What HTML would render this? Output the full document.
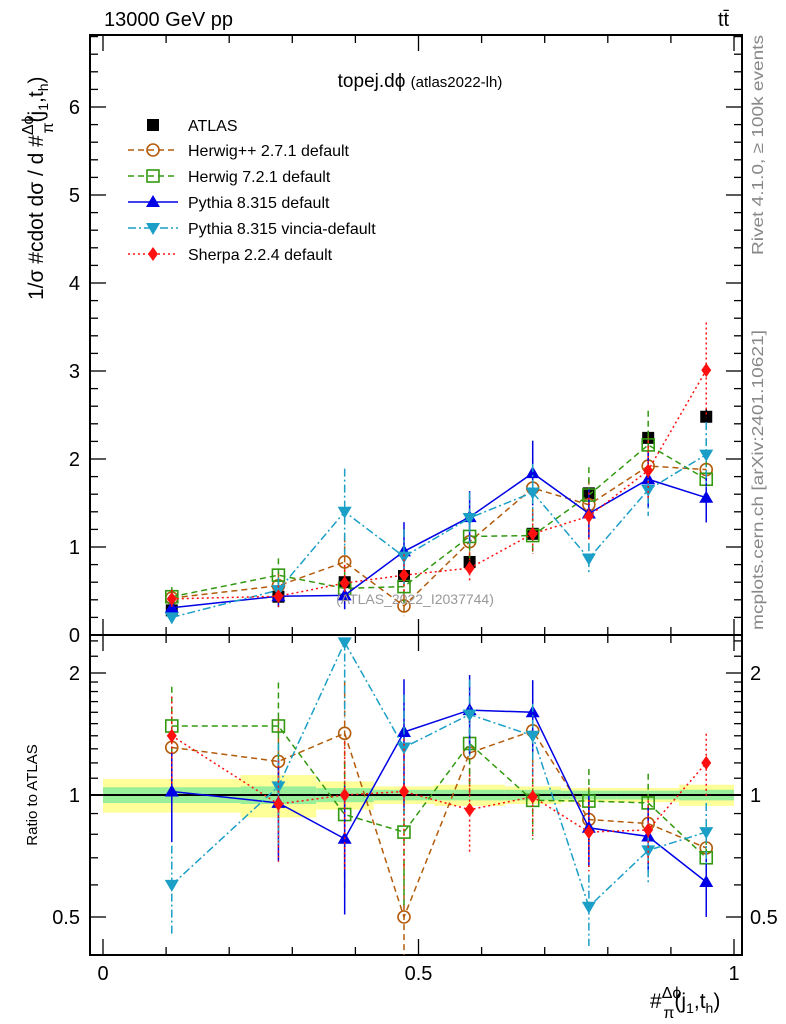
<!DOCTYPE html>
<html><head><meta charset="utf-8">
<style>
html,body{margin:0;padding:0;background:#fff;}
svg{display:block;font-family:"Liberation Sans",Arial,sans-serif;}
</style></head>
<body>
<svg id="chart" width="786" height="1024" viewBox="0 0 786 1024" xmlns="http://www.w3.org/2000/svg">
<g id="bands"></g>
<g id="axes"></g>
<g id="series"></g>
<text x="104" y="26" font-size="20">13000 GeV pp</text>
<text x="718" y="26" font-size="20">tt̄</text>
<text x="420" y="87" font-size="19" text-anchor="middle">topej.dϕ <tspan font-size="15">(atlas2022-lh)</tspan></text>
<text x="415" y="604" font-size="14" fill="#999" text-anchor="middle">(ATLAS_2022_I2037744)</text>
<text transform="translate(763,255) rotate(-90)" font-size="16" fill="#888" textLength="220" lengthAdjust="spacingAndGlyphs">Rivet 4.1.0, ≥ 100k events</text>
<text transform="translate(763,630) rotate(-90)" font-size="16" fill="#888" textLength="300" lengthAdjust="spacingAndGlyphs">mcplots.cern.ch [arXiv:2401.10621]</text>
<text transform="translate(43,300) rotate(-90)" font-size="21">1/σ #cdot dσ / d #<tspan font-size="16" dy="-10">Δϕ</tspan><tspan font-size="16" dx="-18" dy="20">π</tspan><tspan dy="-10">(j</tspan><tspan font-size="14" dy="5">1</tspan><tspan dy="-5">,t</tspan><tspan font-size="14" dy="5">h</tspan><tspan dy="-5">)</tspan></text>
<text transform="translate(37,795) rotate(-90)" font-size="15" text-anchor="middle">Ratio to ATLAS</text>
<text x="650" y="1008" font-size="21">#<tspan font-size="16" dy="-10">Δϕ</tspan><tspan font-size="16" dx="-18" dy="20">π</tspan><tspan dy="-10">(j</tspan><tspan font-size="14" dy="5">1</tspan><tspan dy="-5">,t</tspan><tspan font-size="14" dy="5">h</tspan><tspan dy="-5">)</tspan></text>
<g id="legend"></g>
</svg>
<script>
const binEdges=[0,0.218,0.338,0.429,0.525,0.637,0.726,0.814,0.913,1];
const binCenters=[0.109,0.278,0.383,0.477,0.581,0.681,0.770,0.864,0.956];
const atlas=[0.28,0.435,0.60,0.67,0.83,1.15,1.61,2.24,2.48];
const atlasErr=[0.02,0.03,0.03,0.03,0.04,0.05,0.06,0.08,0.10];
const bandTot=[0.095,0.12,0.08,0.05,0.06,0.05,0.04,0.04,0.06];
const bandStat=[0.045,0.05,0.04,0.03,0.03,0.03,0.025,0.025,0.03];
const herwigpp=[0.42,0.56,0.83,0.33,1.06,1.67,1.48,1.92,1.88];
const herwig7=[0.435,0.68,0.53,0.55,1.12,1.13,1.59,2.16,1.77];
const pythia=[0.31,0.44,0.45,0.95,1.34,1.84,1.38,1.77,1.56];
const vincia=[0.20,0.51,1.40,0.89,1.33,1.62,0.87,1.65,2.05];
const sherpa=[0.41,0.44,0.59,0.68,0.76,1.15,1.35,1.87,3.01];
const ratioHerwigpp=[1.31,1.21,1.42,0.50,1.27,1.44,0.87,0.85,0.74];
const ratioHerwig7=[1.48,1.48,0.895,0.81,1.34,0.97,0.966,0.956,0.70];
const ratioPythia=[1.02,0.956,0.78,1.43,1.62,1.60,0.83,0.79,0.61];
const ratioVincia=[0.60,1.05,2.38,1.31,1.58,1.40,0.53,0.73,0.81];
const ratioSherpa=[1.40,0.95,1.0,1.02,0.92,0.99,0.81,0.82,1.20];
const relErr=[0.25,0.28,0.35,0.35,0.22,0.20,0.20,0.18,0.18];
const yTicks=[0,1,2,3,4,5,6];
const rTicks=[0.5,1,2];
const xTicks=[0,0.5,1];

const NS="http://www.w3.org/2000/svg";
const L=90,R=742,T=35,M=635,B=955;
const sx=v=>103+v*631;
const sy=v=>635-v*88;
const sr=v=>795-122*Math.log2(v);
function mk(tag,attrs,parent){const e=document.createElementNS(NS,tag);for(const k in attrs)e.setAttribute(k,attrs[k]);parent.appendChild(e);return e;}
const axes=document.getElementById('axes'),bands=document.getElementById('bands'),ser=document.getElementById('series'),leg=document.getElementById('legend');

for(let i=0;i<binCenters.length;i++){
  const x0=sx(binEdges[i]),x1=sx(binEdges[i+1]);
  const y=mk('rect',{x:x0,y:sr(1+bandTot[i]),width:x1-x0,height:sr(1-bandTot[i])-sr(1+bandTot[i]),fill:'#ffff99'},bands);
  
  
  const g=mk('rect',{x:x0,y:sr(1+bandStat[i]),width:x1-x0,height:sr(1-bandStat[i])-sr(1+bandStat[i]),fill:'#99ee99'},bands);
  
  
}
const one=mk('line',{x1:L,x2:R,y1:sr(1),y2:sr(1),stroke:'#000','stroke-width':2},axes);



const f1=mk('rect',{x:L,y:T,width:R-L,height:M-T,fill:'none',stroke:'#000','stroke-width':2},axes);


const f2=mk('rect',{x:L,y:M,width:R-L,height:B-M,fill:'none',stroke:'#000','stroke-width':2},axes);



for(let v=0;v<=6.81;v+=0.2){
  const y=sy(v);const maj=Math.abs(v-Math.round(v))<1e-6;const len=maj?16:8;
  mk('line',{x1:L,x2:L+len,y1:y,y2:y,stroke:'#000','stroke-width':1.3},axes);
  mk('line',{x1:R,x2:R-len,y1:y,y2:y,stroke:'#000','stroke-width':1.3},axes);
}
yTicks.forEach(v=>{const t=mk('text',{x:80,y:sy(v)+7,'font-size':20,'text-anchor':'end'},axes);t.textContent=v;

});
[0.4,0.5,0.6,0.7,0.8,0.9,1,1.1,1.2,1.3,1.4,1.5,1.6,1.7,1.8,1.9,2,2.2,2.4].forEach(v=>{
  const y=sr(v);if(y<M||y>B)return;const maj=rTicks.includes(v);const len=maj?16:8;
  mk('line',{x1:L,x2:L+len,y1:y,y2:y,stroke:'#000','stroke-width':1.3},axes);
  mk('line',{x1:R,x2:R-len,y1:y,y2:y,stroke:'#000','stroke-width':1.3},axes);
});
rTicks.forEach(v=>{
  const t=mk('text',{x:80,y:sr(v)+7,'font-size':20,'text-anchor':'end'},axes);t.textContent=v;
  
  
  const t2=mk('text',{x:750,y:sr(v)+7,'font-size':20},axes);t2.textContent=v;
  
  
});
for(let k=0;k<=10;k++){const v=k/10;const x=sx(v);const maj=k%5==0;const len=maj?16:8;
  [M,B].forEach(yb=>{mk('line',{x1:x,x2:x,y1:yb,y2:yb-len,stroke:'#000','stroke-width':1.3},axes);});
  mk('line',{x1:x,x2:x,y1:T,y2:T+len,stroke:'#000','stroke-width':1.3},axes);
  mk('line',{x1:x,x2:x,y1:M,y2:M+len,stroke:'#000','stroke-width':1.3},axes);
}
xTicks.forEach(v=>{const t=mk('text',{x:sx(v),y:980,'font-size':20,'text-anchor':'middle'},axes);t.textContent=v;

});

function marker(type,x,y,color,parent){
  if(type==='sq')return mk('rect',{x:x-6,y:y-6,width:12,height:12,fill:'#000'},parent);
  if(type==='osq')return mk('rect',{x:x-6,y:y-6,width:12,height:12,fill:'none',stroke:color,'stroke-width':1.6},parent);
  if(type==='oc')return mk('circle',{cx:x,cy:y,r:6,fill:'none',stroke:color,'stroke-width':1.6},parent);
  if(type==='tu')return mk('polygon',{points:`${x},${y-7} ${x-7},${y+5} ${x+7},${y+5}`,fill:color},parent);
  if(type==='td')return mk('polygon',{points:`${x},${y+7} ${x-7},${y-5} ${x+7},${y-5}`,fill:color},parent);
  if(type==='di')return mk('polygon',{points:`${x},${y-7} ${x-5},${y} ${x},${y+7} ${x+5},${y}`,fill:color},parent);
}
const mcs=[
 {name:'herwigpp',label:'Herwig++ 2.7.1 default',vals:herwigpp,ratios:ratioHerwigpp,color:'#b35c0c',dash:'6,4',m:'oc'},
 {name:'herwig7',label:'Herwig 7.2.1 default',vals:herwig7,ratios:ratioHerwig7,color:'#339911',dash:'6,4',m:'osq'},
 {name:'pythia',label:'Pythia 8.315 default',vals:pythia,ratios:ratioPythia,color:'#0000e6',dash:'',m:'tu'},
 {name:'vincia',label:'Pythia 8.315 vincia-default',vals:vincia,ratios:ratioVincia,color:'#1b9fc6',dash:'8,3,2,3',m:'td'},
 {name:'sherpa',label:'Sherpa 2.2.4 default',vals:sherpa,ratios:ratioSherpa,color:'#ff1010',dash:'2,3',m:'di'}
];
const gd=mk('g',{},ser);


atlas.forEach((v,i)=>{const x=sx(binCenters[i]);
  mk('line',{x1:x,x2:x,y1:sy(v+atlasErr[i]),y2:sy(v-atlasErr[i]),stroke:'#000','stroke-width':1.5},gd);
  const p=marker('sq',x,sy(v),'#000',gd);
  
  
});
const clip=mk('clipPath',{id:'rclip'},document.getElementById('chart'));
mk('rect',{x:L,y:M,width:R-L,height:B-M},clip);
mcs.forEach(s=>{
  const g=mk('g',{},ser);
  
  
  const gr=mk('g',{'clip-path':'url(#rclip)'},g);
  const pm=s.vals.map((v,i)=>sx(binCenters[i])+','+sy(v)).join(' ');
  mk('polyline',{points:pm,fill:'none',stroke:s.color,'stroke-width':1.5,'stroke-dasharray':s.dash},g);
  const pr=s.ratios.map((r,i)=>sx(binCenters[i])+','+sr(r)).join(' ');
  mk('polyline',{points:pr,fill:'none',stroke:s.color,'stroke-width':1.5,'stroke-dasharray':s.dash},gr);
  s.vals.forEach((v,i)=>{const x=sx(binCenters[i]);const e=v*relErr[i];
    mk('line',{x1:x,x2:x,y1:sy(v+e),y2:sy(v-e),stroke:s.color,'stroke-width':1.5,'stroke-dasharray':s.dash},g);
    const r=s.ratios[i];
    mk('line',{x1:x,x2:x,y1:sr(r*(1+relErr[i])),y2:sr(r*(1-relErr[i])),stroke:s.color,'stroke-width':1.5,'stroke-dasharray':s.dash},gr);
    const p=marker(s.m,x,sy(v),s.color,g);
    
    
    const q=marker(s.m,x,sr(r),s.color,gr);
    
    
  });
});
const ly=[125,150,176,202,228,254];
const le0=mk('g',{},leg);


marker('sq',153,ly[0],'#000',le0);
const t0=mk('text',{x:188,y:ly[0]+6,'font-size':16},le0);t0.textContent='ATLAS';
mcs.forEach((s,k)=>{const y=ly[k+1];
  const g=mk('g',{},leg);
  
  
  mk('line',{x1:128,x2:178,y1:y,y2:y,stroke:s.color,'stroke-width':1.5,'stroke-dasharray':s.dash},g);
  marker(s.m,153,y,s.color,g);
  const t=mk('text',{x:188,y:y+6,'font-size':16},g);t.textContent=s.label;
});
</script>
</body></html>
